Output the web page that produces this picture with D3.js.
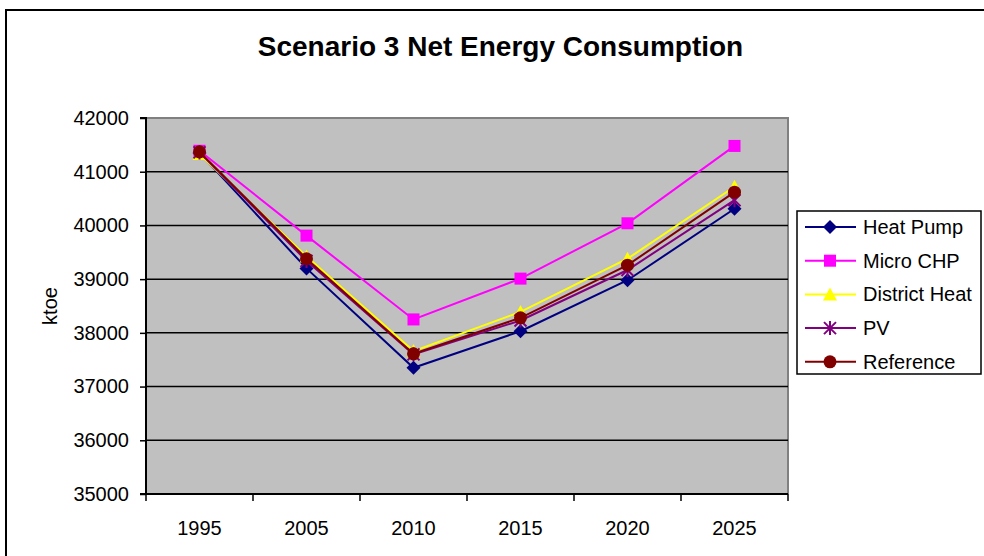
<!DOCTYPE html>
<html><head><meta charset="utf-8">
<script src="https://cdn.jsdelivr.net/npm/d3@7"></script>
<style>
html,body{margin:0;padding:0;background:#fff;overflow:hidden;}
svg{display:block;font-family:Arial,"Liberation Sans",sans-serif;}
</style></head>
<body><svg id="chart" width="984" height="556"></svg>
<script>
const categories = ["1995","2005","2010","2015","2020","2025"];
const heatPump     = [41350, 39200, 37350, 38030, 38980, 40310];
const microCHP     = [41390, 39810, 38250, 39010, 40040, 41480];
const districtHeat = [41330, 39420, 37660, 38390, 39380, 40720];
const pv           = [41360, 39340, 37600, 38230, 39170, 40470];
const reference    = [41370, 39380, 37610, 38280, 39260, 40620];
const yTicks = [35000, 36000, 37000, 38000, 39000, 40000, 41000, 42000];
const seriesNames = ["Heat Pump","Micro CHP","District Heat","PV","Reference"];

const series = [
  {name: seriesNames[0], values: heatPump, color: "#000080", marker: "diamond"},
  {name: seriesNames[1], values: microCHP, color: "#FF00FF", marker: "square"},
  {name: seriesNames[2], values: districtHeat, color: "#FFFF00", marker: "triangle"},
  {name: seriesNames[3], values: pv, color: "#800080", marker: "star"},
  {name: seriesNames[4], values: reference, color: "#800000", marker: "circle"}
];

const svg = d3.select("#chart");
const L = 146, R = 788, T = 118, B = 494;
const FS = 20;

// outer chart border
svg.append("rect").attr("x",6).attr("y",10).attr("width",1000).attr("height",600)
  .attr("fill","none").attr("stroke","#000").attr("stroke-width",2);

// title
svg.append("text").attr("x",500.5).attr("y",56).attr("text-anchor","middle")
  .attr("font-weight","bold").attr("font-size",28).text("Scenario 3 Net Energy Consumption");

const x = d3.scaleBand().domain(categories).range([L,R]);
const y = d3.scaleLinear().domain([35000,42000]).range([B,T]);

// plot area
svg.append("rect").attr("x",L).attr("y",T).attr("width",R-L).attr("height",B-T).attr("fill","#C0C0C0");
svg.append("path").attr("d",`M${L},${T}H${R}V${B}`).attr("fill","none").attr("stroke","#808080").attr("stroke-width",2);

// gridlines
svg.append("g").selectAll("line").data(yTicks.filter(d=>d>35000 && d<42000)).join("line")
  .attr("x1",L).attr("x2",R).attr("y1",d=>y(d)).attr("y2",d=>y(d))
  .attr("stroke","#000").attr("stroke-width",1.5);

// y axis
const yAxis = d3.axisLeft(y).tickValues(yTicks).tickSize(6).tickPadding(11).tickFormat(d3.format("d"));
const gy = svg.append("g").attr("transform",`translate(${L},0)`).call(yAxis);
gy.select(".domain").attr("stroke","#000").attr("stroke-width",2).attr("d",`M-6,${T}H0V${B}H-6`);
gy.selectAll(".tick line").attr("stroke","#000").attr("stroke-width",1.5);
gy.selectAll("text").attr("font-size",FS).attr("fill","#000").attr("font-family","Arial, 'Liberation Sans', sans-serif");

// x axis
const xAxis = d3.axisBottom(x).tickSize(0).tickPadding(27);
const gx = svg.append("g").attr("transform",`translate(0,${B})`).call(xAxis);
gx.select(".domain").attr("stroke","#000").attr("stroke-width",2).attr("d",`M${L},0H${R}`);
gx.selectAll("text").attr("font-size",FS).attr("fill","#000").attr("font-family","Arial, 'Liberation Sans', sans-serif");
const bounds = categories.map(c=>x(c)).concat([x(categories[categories.length-1])+x.bandwidth()]);
gx.append("g").selectAll("line").data(bounds).join("line")
  .attr("x1",d=>d).attr("x2",d=>d).attr("y1",0).attr("y2",7).attr("stroke","#000").attr("stroke-width",1.5);

// y title
svg.append("text").attr("transform",`translate(57,${(T+B)/2}) rotate(-90)`).attr("text-anchor","middle")
  .attr("font-size",FS).text("ktoe");

function drawMarker(g, type, color, cx, cy){
  if(type==="diamond"){
    g.append("path").attr("d",`M${cx},${cy-7}L${cx+7},${cy}L${cx},${cy+7}L${cx-7},${cy}Z`).attr("fill",color);
  } else if(type==="square"){
    g.append("rect").attr("x",cx-6).attr("y",cy-6).attr("width",12).attr("height",12).attr("fill",color);
  } else if(type==="triangle"){
    g.append("path").attr("d",`M${cx},${cy-7}L${cx+7},${cy+6}L${cx-7},${cy+6}Z`).attr("fill",color);
  } else if(type==="star"){
    const s=6;
    g.append("path").attr("d",`M${cx-s},${cy-s}L${cx+s},${cy+s}M${cx-s},${cy+s}L${cx+s},${cy-s}M${cx},${cy-s-1}V${cy+s+1}`)
      .attr("stroke",color).attr("stroke-width",2).attr("fill","none");
  } else {
    g.append("circle").attr("cx",cx).attr("cy",cy).attr("r",6.5).attr("fill",color);
  }
}

const line = d3.line().x((d,i)=>x(categories[i])+x.bandwidth()/2).y(d=>y(d));
series.forEach(s=>{
  const g = svg.append("g");
  g.append("path").attr("d",line(s.values)).attr("fill","none").attr("stroke",s.color).attr("stroke-width",2);
  s.values.forEach((v,i)=>drawMarker(g, s.marker, s.color, x(categories[i])+x.bandwidth()/2, y(v)));
});

// legend
const lg = svg.append("g");
lg.append("rect").attr("x",797).attr("y",211).attr("width",184).attr("height",163)
  .attr("fill","#fff").attr("stroke","#000").attr("stroke-width",1.5);
series.forEach((s,i)=>{
  const yy = 227 + i*33.7;
  lg.append("line").attr("x1",805).attr("x2",856).attr("y1",yy).attr("y2",yy).attr("stroke",s.color).attr("stroke-width",2);
  drawMarker(lg, s.marker, s.color, 830, yy);
  lg.append("text").attr("x",863).attr("y",yy+7).attr("font-size",FS).text(s.name);
});
</script></body></html>
